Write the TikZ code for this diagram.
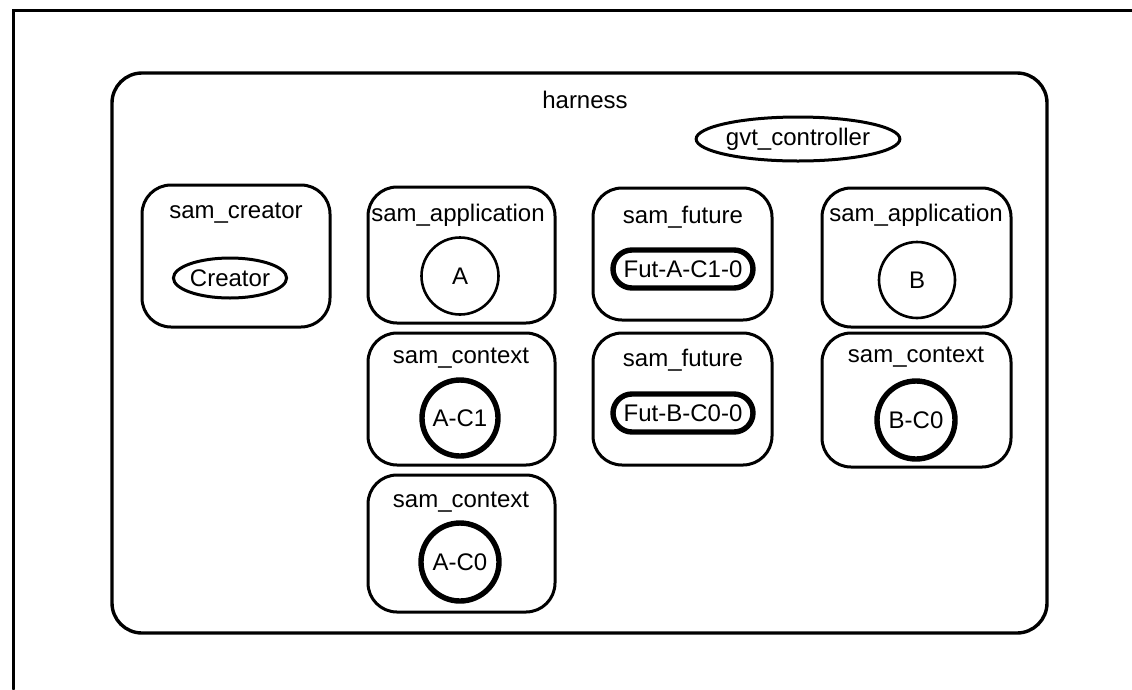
\documentclass[tikz,border=0pt]{standalone}
\usepackage{fontspec}
\setmainfont{Liberation Sans}
\usetikzlibrary{shapes.geometric,shapes.misc}
\tikzset{
  frameline/.style={line width=3pt, line cap=round},
  harnessbox/.style={draw, line width=3.4pt, rounded corners=30pt, rectangle, inner sep=0pt},
  sambox/.style={draw, line width=3pt, rounded corners=29pt, rectangle, inner sep=0pt},
  boxlabel/.style={inner sep=0pt, font=\fontsize{24}{28}\selectfont},
  thincircle/.style={draw, circle, line width=2.6pt, inner sep=0pt, font=\fontsize{24}{28}\selectfont},
  thickcircle/.style={draw, circle, line width=5.4pt, inner sep=0pt, font=\fontsize{24}{28}\selectfont},
  futnode/.style={draw, rounded rectangle, line width=5.4pt, inner sep=0pt, minimum width=140pt, minimum height=38pt, font=\fontsize{24}{28}\selectfont},
  ellnode/.style={draw, ellipse, line width=3pt, inner sep=0pt, font=\fontsize{24}{28}\selectfont}
}
\begin{document}
\begin{tikzpicture}[x=1pt,y=-1pt]
\useasboundingbox (0,0) rectangle (1132,689);
% outer frame
\coordinate (ftr) at (1132,10);
\coordinate (ftl) at (13,10);
\coordinate (fbl) at (13,689);
\draw[frameline] (ftr) -- (ftl) -- (fbl);
% harness
\node[harnessbox, minimum width=935pt, minimum height=560pt] (harness) at (579.5,353) {};
\node[boxlabel] (harnesslbl) at (585,100) {harness};
\node[ellnode, minimum width=184pt, minimum height=44pt] (gvt) at (798,139) {gvt\_controller};
% sam_creator
\node[sambox, minimum width=188pt, minimum height=142pt] (creatorbox) at (236,256) {};
\node[boxlabel] (creatorlbl) at (236,213) {sam\_creator};
\node[ellnode, minimum width=102pt, minimum height=40pt] (creator) at (230,278) {Creator};
% column A
\node[sambox, minimum width=187pt, minimum height=136pt] (appAbox) at (461.5,255) {};
\node[boxlabel] (appAlbl) at (458,215) {sam\_application};
\node[thincircle, minimum size=77pt] (A) at (460,276) {A};
\node[sambox, minimum width=187pt, minimum height=132pt] (ctxA1box) at (461.5,399) {};
\node[boxlabel] (ctxA1lbl) at (461,358) {sam\_context};
\node[thickcircle, minimum size=76pt] (AC1) at (460,418) {A-C1};
\node[sambox, minimum width=187pt, minimum height=137pt] (ctxA0box) at (461.5,543.5) {};
\node[boxlabel] (ctxA0lbl) at (461,502) {sam\_context};
\node[thickcircle, minimum size=78pt] (AC0) at (460,562) {A-C0};
% column futures
\node[sambox, minimum width=179pt, minimum height=132pt] (futAbox) at (682.5,254) {};
\node[boxlabel] (futAlbl) at (683,217) {sam\_future};
\node[futnode] (futA) at (683,269) {Fut-A-C1-0};
\node[sambox, minimum width=179pt, minimum height=132pt] (futBbox) at (682.5,399) {};
\node[boxlabel] (futBlbl) at (683,360) {sam\_future};
\node[futnode] (futB) at (683,413) {Fut-B-C0-0};
% column B
\node[sambox, minimum width=189pt, minimum height=139pt] (appBbox) at (916.5,257.5) {};
\node[boxlabel] (appBlbl) at (916,215) {sam\_application};
\node[thincircle, minimum size=76pt] (B) at (917,280) {B};
\node[sambox, minimum width=189pt, minimum height=134pt] (ctxBbox) at (916.5,400) {};
\node[boxlabel] (ctxBlbl) at (916,357) {sam\_context};
\node[thickcircle, minimum size=78pt] (BC0) at (916,420) {B-C0};
\end{tikzpicture}
\end{document}
